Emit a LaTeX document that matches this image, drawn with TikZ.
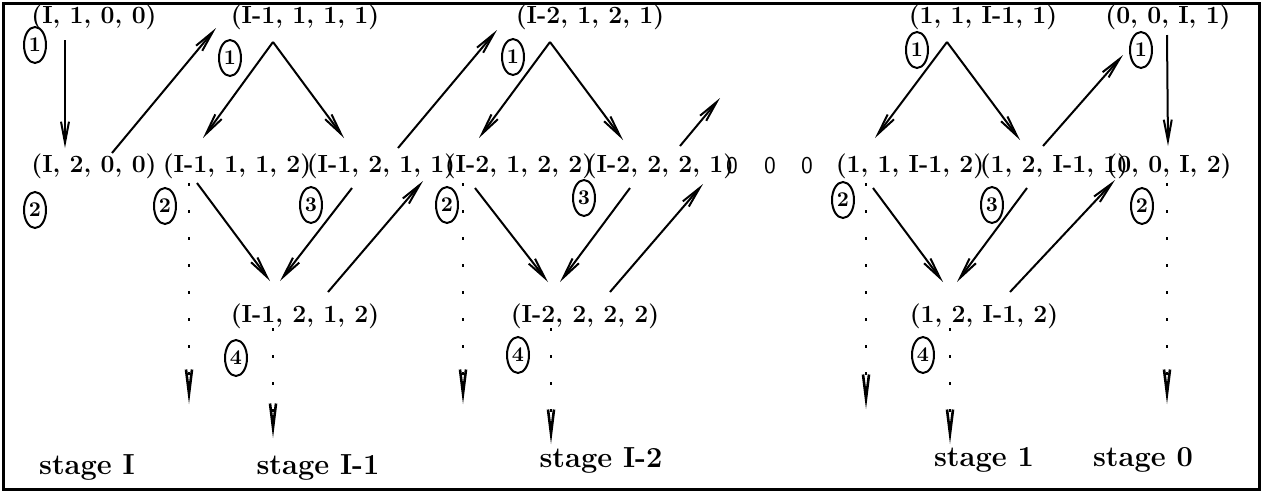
\documentclass[tikz,border=0pt]{standalone}
\usepackage{tikz}
\usetikzlibrary{shapes.geometric,calc,arrows.meta}
\tikzset{
  tup/.style      = {font=\fontsize{12.4}{15}\selectfont\bfseries, inner sep=0pt},
  num/.style      = {ellipse, draw=black, line width=1pt, inner sep=0pt,
                     minimum width=11pt, minimum height=18pt,
                     font=\fontsize{10.5}{11}\selectfont\bfseries},
  stagelbl/.style = {font=\fontsize{14.5}{16}\selectfont\bfseries},
  gap/.style      = {font=\fontsize{12}{14}\selectfont\sffamily},
  trans/.style    = {line width=1pt, -{Straight Barb[length=10.5pt, width=4pt]}},
  drop/.style     = {line width=1pt, dash pattern=on 1.5pt off 12pt,
                     -{Straight Barb[length=12pt, width=3pt, line width=1.3pt]}},
}

\begin{document}
\begin{tikzpicture}[x=0.5pt, y=-0.5pt]
\useasboundingbox (0,0) rectangle (1264,494);
\draw[line width=1.5pt] (3,3) rectangle (1259,489);

%── stage I ──────────────────────────────────────────────
\node[tup] (a1) at (94,17)   {(I, 1, 0, 0)};
\node[tup] (a2) at (94,166)  {(I, 2, 0, 0)};

%── stage I-1 ────────────────────────────────────────────
\node[tup] (b1) at (305,17)  {(I-1, 1, 1, 1)};
\node[tup] (b2) at (237,166) {(I-1, 1, 1, 2)};
\node[tup] (b3) at (381,166) {(I-1, 2, 1, 1)};
\node[tup] (b4) at (305,316) {(I-1, 2, 1, 2)};

%── stage I-2 ────────────────────────────────────────────
\node[tup] (c1) at (590,17)  {(I-2, 1, 2, 1)};
\node[tup] (c2) at (519,166) {(I-2, 1, 2, 2)};
\node[tup] (c3) at (660,166) {(I-2, 2, 2, 1)};
\node[tup] (c4) at (585,316) {(I-2, 2, 2, 2)};
\coordinate (c3out) at (720,98);
\coordinate (c4out) at (703,184);

% skipped stages
\foreach \k/\x in {1/732,2/770,3/807}{
  \node[gap] (o\k) at (\x,166) {0};
}

%── stage 1 ──────────────────────────────────────────────
\node[tup] (d1) at (983,17)  {(1, 1, I-1, 1)};
\node[tup] (d2) at (910,166) {(1, 1, I-1, 2)};
\node[tup] (d3) at (1054,166) {(1, 2, I-1, 1)};
\node[tup] (d4) at (984,316) {(1, 2, I-1, 2)};

%── stage 0 ──────────────────────────────────────────────
\node[tup] (e1) at (1168,17) {(0, 0, I, 1)};
\node[tup] (e2) at (1169,166) {(0, 0, I, 2)};

% circled step numbers
\foreach \n/\x/\y/\t in {ka1/35/45/1, ka2/35/210/2,
    kb1/230/58/1, kb2/165/206/2, kb3/311/205/3, kb4/236/358/4,
    kc1/513/57/1, kc2/447/205/2, kc3/584/198/3, kc4/518/355/4,
    kd1/917/50/1, kd2/843/200/2, kd3/992/205/3, kd4/923/355/4,
    ke1/1141/50/1, ke2/1142/206/2}{
  \node[num] (\n) at (\x,\y) {\t};
}

% stage labels
\node[stagelbl] (sI)  at (87,467)   {stage I};
\node[stagelbl] (sI1) at (318,467)  {stage I-1};
\node[stagelbl] (sI2) at (601,460)  {stage I-2};
\node[stagelbl] (s1)  at (984,460)  {stage 1};
\node[stagelbl] (s0)  at (1143,460) {stage 0};

% transitions
\draw[trans] ($(a1)+(-29,23)$) -- ($(a2)+(-29,-18)$);
\draw[trans] ($(a2)+(18,-13)$) -- ($(b1)+(-89,11)$);
\draw[trans] ($(b1)+(-32,25)$) -- ($(b2)+(-34,-28)$);
\draw[trans] ($(b1)+(-32,25)$) -- ($(b3)+(-37,-28)$);
\draw[trans] ($(b2)+(-40,17)$) -- ($(b4)+(-35,-35)$);
\draw[trans] ($(b3)+(-29,22)$) -- ($(b4)+(-25,-35)$);
\draw[trans] ($(b4)+(23,-24)$) -- ($(c2)+(-96,15)$);
\draw[trans] ($(b3)+(17,-18)$) -- ($(c1)+(-93,13)$);
\draw[trans] ($(c1)+(-40,25)$) -- ($(c2)+(-40,-28)$);
\draw[trans] ($(c1)+(-40,25)$) -- ($(c3)+(-37,-26)$);
\draw[trans] ($(c2)+(-44,22)$) -- ($(c4)+(-37,-34)$);
\draw[trans] ($(c3)+(-30,22)$) -- ($(c4)+(-25,-34)$);
\draw[trans] ($(c4)+(25,-24)$) -- (c4out);
\draw[trans] ($(c3)+(20,-20)$) -- (c3out);
\draw[trans] ($(d1)+(-36,25)$) -- ($(d2)+(-35,-28)$);
\draw[trans] ($(d1)+(-36,25)$) -- ($(d3)+(-34,-26)$);
\draw[trans] ($(d2)+(-37,22)$) -- ($(d4)+(-41,-34)$);
\draw[trans] ($(d3)+(-27,22)$) -- ($(d4)+(-27,-34)$);
\draw[trans] ($(d4)+(26,-24)$) -- ($(e2)+(-54,14)$);
\draw[trans] ($(d3)+(-11,-20)$) -- ($(e1)+(-45,38)$);
\draw[trans] ($(e1)+(-1,18)$) -- ($(e2)+(-1,-20)$);

% terminal drops
\draw[drop] ($(b2)+(-48,17)$) -- ++(0,221);
\draw[drop] ($(b4)+(-32,12)$) -- ++(0,110);
\draw[drop] ($(c2)+(-56,17)$) -- ++(0,221);
\draw[drop] ($(c4)+(-34,12)$) -- ++(0,116);
\draw[drop] ($(d2)+(-44,17)$) -- ++(0,226);
\draw[drop] ($(d4)+(-34,12)$) -- ++(0,116);
\draw[drop] ($(e2)+(-2,17)$) -- ++(0,221);

\end{tikzpicture}
\end{document}
